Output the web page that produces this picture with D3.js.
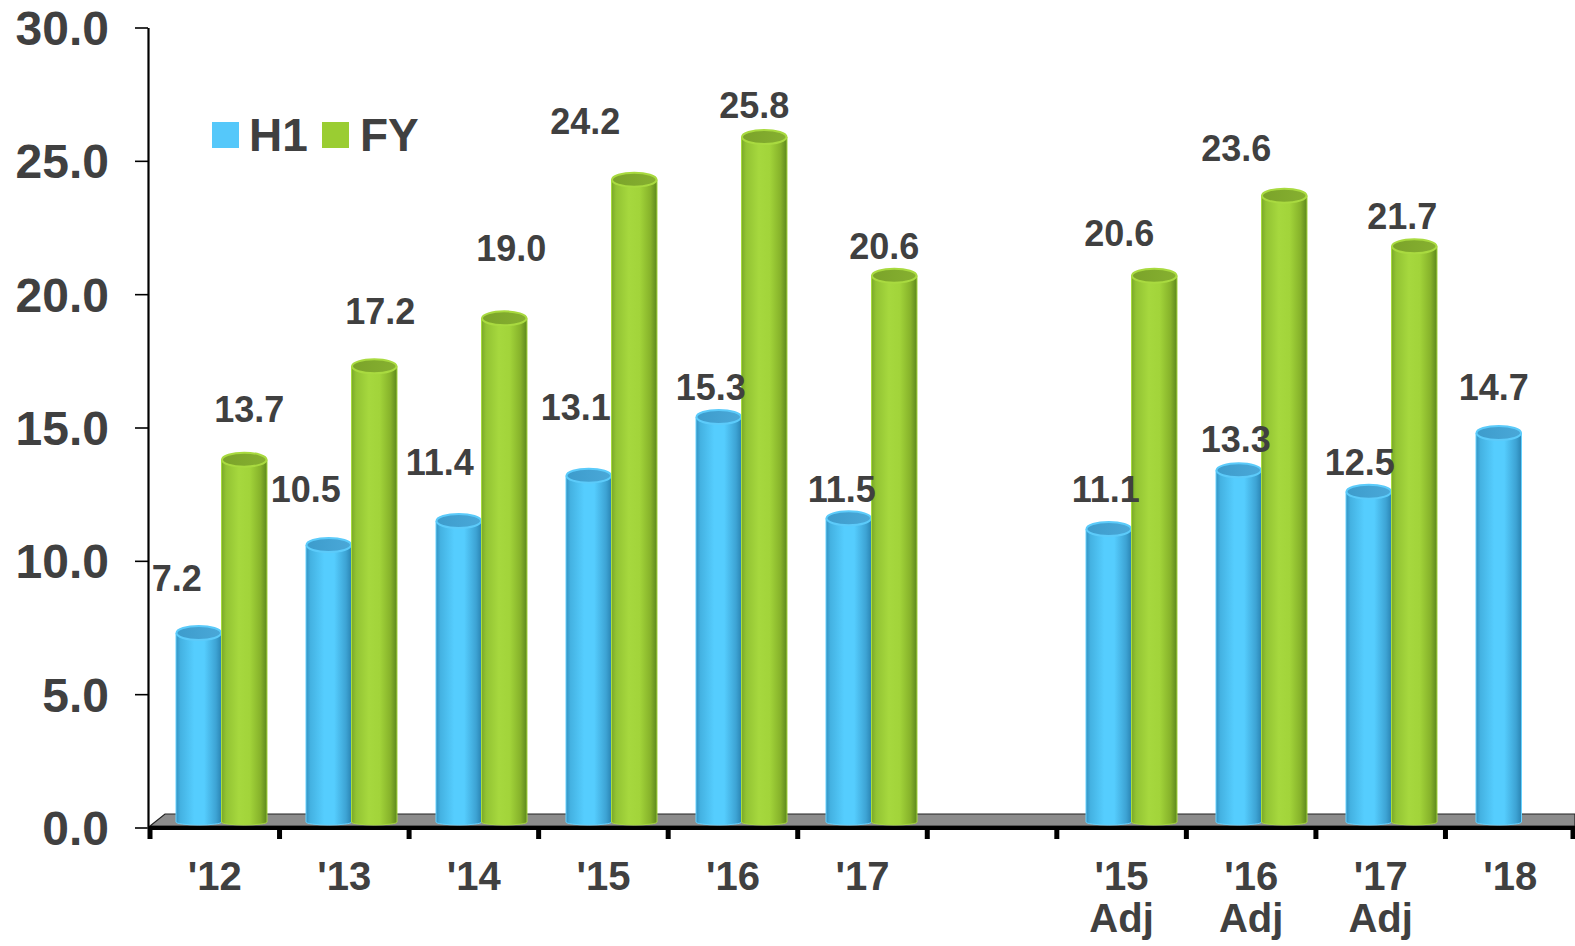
<!DOCTYPE html>
<html><head><meta charset="utf-8">
<script src="https://cdn.jsdelivr.net/npm/d3@7"></script>
<style>html,body{margin:0;padding:0;background:#fff;}svg{display:block;}</style>
</head><body>
<svg id="chart" width="1575" height="946"></svg>
<script>
// ---- data ----
const categories = ["'12","'13","'14","'15","'16","'17","gap","'15 Adj","'16 Adj","'17 Adj","'18"];
const seriesNames = ["H1","FY"];
const h1Values = [7.2,10.5,11.4,13.1,15.3,11.5,null,11.1,13.3,12.5,14.7];
const fyValues = [13.7,17.2,19.0,24.2,25.8,20.6,null,20.6,23.6,21.7,null];
const yTicks = [0,5,10,15,20,25,30];

// label nudges (drawing config, px relative to bar value position)
const h1LabelNudge = [[-22,-58],[-23,-59],[-19,-62],[-13,-72],[-8,-33],[-7,-32],null,[-3,-43],[-3,-34],[-9,-33],[-5,-49]];
const fyLabelNudge = [[5,-54],[6,-58],[7,-73],[-49,-62],[-10,-35],[-10,-33],null,[-35,-46],[-48,-51],[-12,-33],null];

const svg = d3.select("#chart");
const textColor = "#404040";
const font = "'Liberation Sans', Arial, sans-serif";

const y = d3.scaleLinear().domain([0,30]).range([828,28]);
const xAxisScale = d3.scaleBand().domain(categories).range([150,1575]).padding(0);
const xBars = d3.scaleBand().domain(categories).range([176,176+130*11]).padding(0);
const xSeries = d3.scaleBand().domain(seriesNames).range([0,91]).padding(0);

// gradients
const defs = svg.append("defs");
function grad(id, stops){
  const g = defs.append("linearGradient").attr("id",id).attr("x1","0%").attr("x2","100%").attr("y1","0%").attr("y2","0%");
  stops.forEach(s=>g.append("stop").attr("offset",s[0]).attr("stop-color",s[1]));
}
grad("gBlue",[["0%","#3592c2"],["10%","#44b2e2"],["40%","#55cdfe"],["62%","#55cdfe"],["88%","#3da3d4"],["100%","#2a84b3"]]);
grad("gGreen",[["0%","#7aa828"],["10%","#92c333"],["38%","#a6d83e"],["62%","#a2d43a"],["86%","#86b22a"],["100%","#5c871c"]]);
grad("gBlueTop",[["0%","#3d9ccc"],["100%","#4aa8d8"]]);
grad("gGreenTop",[["0%","#7ba32a"],["100%","#86b030"]]);

const styles = {
  H1:{body:"url(#gBlue)", edge:"#66d2ff", top:"url(#gBlueTop)", rim:"#5ccbfa"},
  FY:{body:"url(#gGreen)", edge:"#a8da3e", top:"url(#gGreenTop)", rim:"#a9da40"}
};

// floor
const floorTop = 814, floorBottom = 826;
svg.append("polygon")
  .attr("points", [[150,floorBottom],[165,floorTop],[1575,floorTop],[1575,floorBottom]].map(p=>p.join(",")).join(" "))
  .attr("fill","#8c8c8c").attr("stroke","#222").attr("stroke-width",1.2);
svg.append("rect").attr("x",148).attr("y",floorBottom).attr("width",1575-148).attr("height",4).attr("fill","#000");

// x ticks
const tickXs = categories.map(c=>xAxisScale(c)).concat([1575-2]);
svg.selectAll("rect.xtick").data(tickXs).enter().append("rect")
  .attr("class","xtick").attr("x",d=>d-2.5).attr("y",829).attr("width",5).attr("height",10).attr("fill","#000");

// y axis
svg.append("line").attr("x1",148.5).attr("x2",148.5).attr("y1",y(30)).attr("y2",floorBottom+1).attr("stroke","#000").attr("stroke-width",2.2);
svg.selectAll("line.ytick").data(yTicks).enter().append("line")
  .attr("x1",135).attr("x2",148).attr("y1",d=>y(d)).attr("y2",d=>y(d)).attr("stroke","#000").attr("stroke-width",1.6);
svg.selectAll("text.ylab").data(yTicks).enter().append("text")
  .attr("x",109).attr("y",d=>y(d)+17).attr("text-anchor","end")
  .attr("font-family",font).attr("font-weight","bold").attr("font-size",48).attr("fill",textColor)
  .text(d=>d.toFixed(1));

// x labels
categories.forEach(c=>{
  if(c==="gap") return;
  const parts = c.split(" ");
  const t = svg.append("text").attr("text-anchor","middle")
    .attr("font-family",font).attr("font-weight","bold").attr("font-size",40).attr("fill",textColor);
  parts.forEach((p,i)=>{
    t.append("tspan").attr("x",xAxisScale(c)+xAxisScale.bandwidth()/2).attr("y",890+i*42).text(p);
  });
});

// bars
const bars = [];
categories.forEach((c,i)=>{
  [[ "H1", h1Values[i], h1LabelNudge[i]],["FY", fyValues[i], fyLabelNudge[i]]].forEach(([s,v,n])=>{
    if(v==null) return;
    bars.push({cat:c, series:s, value:v, nudge:n});
  });
});

const ry = 7, bottomY = 822, bry = 3;
const g = svg.append("g");
bars.forEach(d=>{
  const x0 = xBars(d.cat) + xSeries(d.series);
  const w = xSeries.bandwidth();
  const rx = w/2;
  const cx = x0 + rx;
  const cy = y(d.value) - 3;
  const st = styles[d.series];
  g.append("path")
    .attr("d",`M${x0},${cy} L${x0},${bottomY} A${rx},${bry} 0 0 0 ${x0+w},${bottomY} L${x0+w},${cy} Z`)
    .attr("fill",st.body).attr("stroke",st.edge).attr("stroke-width",1);
  g.append("ellipse").attr("cx",cx).attr("cy",cy).attr("rx",rx-0.5).attr("ry",ry)
    .attr("fill",st.top).attr("stroke",st.rim).attr("stroke-width",2);
  d.cx = cx; d.ty = y(d.value);
});

// value labels
svg.selectAll("text.vlab").data(bars).enter().append("text")
  .attr("x",d=>d.cx + d.nudge[0]).attr("y",d=>d.ty + d.nudge[1] + 13)
  .attr("text-anchor","middle")
  .attr("font-family",font).attr("font-weight","bold").attr("font-size",36).attr("fill",textColor)
  .text(d=>d.value.toFixed(1));

// legend
const legendColors = {H1:"#55c8fa", FY:"#9acd32"};
const legendX = {H1:[212,249], FY:[322,360]};
seriesNames.forEach(s=>{
  svg.append("rect").attr("x",legendX[s][0]).attr("y",122).attr("width",27).attr("height",26).attr("fill",legendColors[s]);
  svg.append("text").attr("x",legendX[s][1]).attr("y",151)
    .attr("font-family",font).attr("font-weight","bold").attr("font-size",46).attr("fill",textColor).text(s);
});
</script>
</body></html>
